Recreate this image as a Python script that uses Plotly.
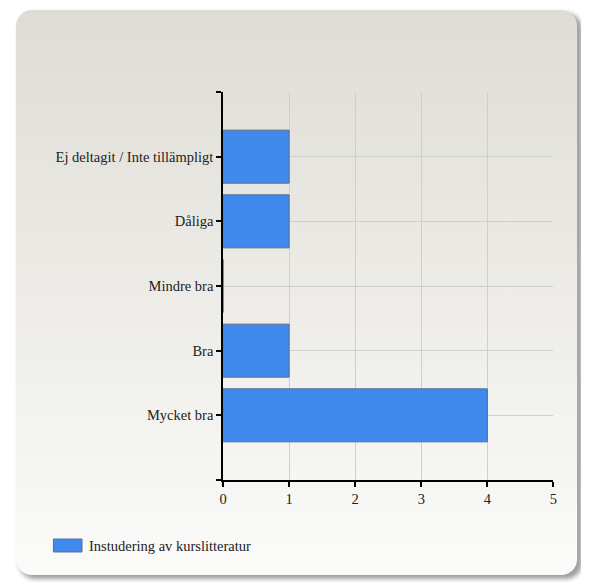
import plotly.graph_objects as go
import base64

categories = ["Mycket bra", "Bra", "Mindre bra", "Dåliga", "Ej deltagit / Inte tillämpligt"]
values = [4, 1, 0, 1, 1]
series_name = "Instudering av kurslitteratur"
x_ticks = [0, 1, 2, 3, 4, 5]

# page body has an 8px margin; figure is shifted accordingly
OFF = 8
W, H = 589 - OFF, 583 - OFF
FONT = "Liberation Serif"
FS = 14.5


def px(x):
    return (x - OFF) / W


def py(y):
    return (H - (y - OFF)) / H


svg = f'''<svg xmlns="http://www.w3.org/2000/svg" width="{W}" height="{H}" viewBox="0 0 {W} {H}" preserveAspectRatio="none">
<defs>
<linearGradient id="g" x1="0" y1="0" x2="0" y2="1">
<stop offset="0" stop-color="#dedcd4"/>
<stop offset="1" stop-color="#fbfbfa"/>
</linearGradient>
<filter id="s" x="-5%" y="-5%" width="110%" height="110%"><feGaussianBlur stdDeviation="2"/></filter>
</defs>
<rect x="{15-OFF}" y="{13-OFF}" width="571" height="566" rx="16" ry="16" fill="#a0a0a0" filter="url(#s)"/>
<rect x="{12-OFF}" y="{10-OFF}" width="569" height="565" rx="16" ry="16" fill="url(#g)"/>
</svg>'''
src = "data:image/svg+xml;base64," + base64.b64encode(svg.encode()).decode()

fig = go.Figure()
fig.add_trace(go.Bar(
    y=list(range(len(categories))), x=values, orientation="h",
    marker=dict(color="#3f8aec", line=dict(color="#5b6f8c", width=1)),
    width=0.82, name=series_name, showlegend=False,
))

fig.update_layout(
    width=W, height=H,
    margin=dict(l=0, r=0, t=0, b=0),
    paper_bgcolor="white", plot_bgcolor="rgba(0,0,0,0)",
    font=dict(family=FONT, size=FS, color="#222222"),
    images=[dict(source=src, xref="paper", yref="paper", x=0, y=1, sizex=1, sizey=1,
                 xanchor="left", yanchor="top", sizing="stretch", layer="below")],
    xaxis=dict(domain=[px(222), px(557)], range=[0, 5], tickvals=x_ticks,
               showgrid=True, gridcolor="#cfcfcc", gridwidth=1, zeroline=False,
               showline=True, linecolor="black", linewidth=1.5,
               ticks="outside", ticklen=5, tickcolor="black", tickwidth=1.5,
               tickfont=dict(family=FONT, size=FS, color="#222")),
    yaxis=dict(domain=[py(480), py(92)], range=[-1, 5],
               tickvals=[-1, 0, 1, 2, 3, 4, 5], ticktext=[""] + categories + [""],
               showgrid=True, gridcolor="#cfcfcc", gridwidth=1, zeroline=False,
               showline=True, linecolor="black", linewidth=1.5,
               ticks="outside", ticklen=5, tickcolor="black", tickwidth=1.5,
               tickfont=dict(family=FONT, size=FS, color="#222")),
)

# manual legend
fig.add_shape(type="rect", xref="paper", yref="paper",
              x0=px(50), x1=px(79), y0=py(552), y1=py(539),
              fillcolor="#3f8aec", line=dict(color="#5b6f8c", width=1))
fig.add_annotation(text=series_name, xref="paper", yref="paper",
                   x=px(84), y=py(545.5), xanchor="left", yanchor="middle",
                   showarrow=False, font=dict(family=FONT, size=FS, color="#222"))

fig.write_html("out.html")
